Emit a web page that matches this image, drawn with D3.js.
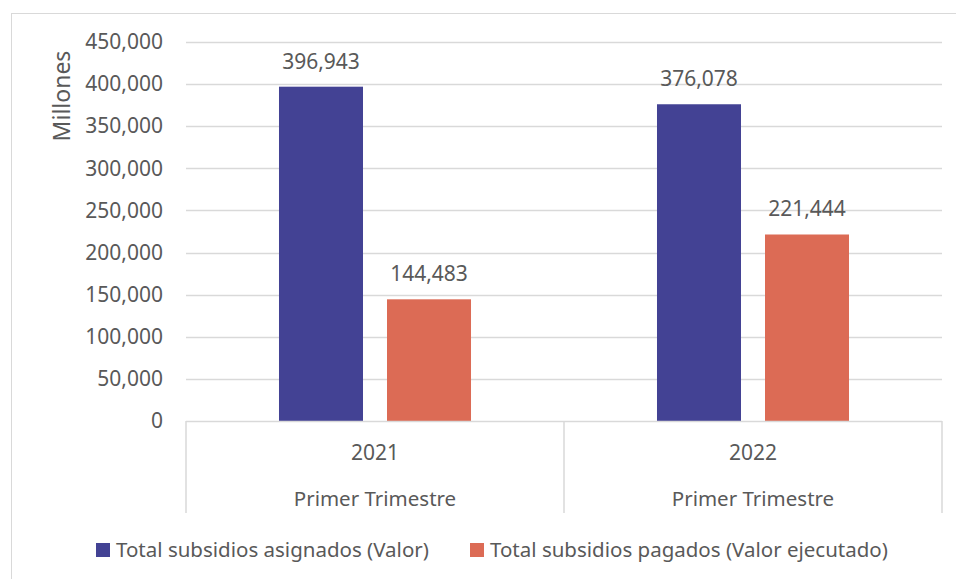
<!DOCTYPE html>
<html>
<head>
<meta charset="utf-8">
<script src="https://cdn.jsdelivr.net/npm/d3@7"></script>
<style>
  body { margin: 0; background: white; }
  text { font-family: "Noto Sans", "Open Sans", sans-serif; fill: #595959; }
</style>
</head>
<body>
<div id="chart"></div>
<script>
var years = ["2021", "2022"];
var periodLabel = "Primer Trimestre";
var seriesNames = ["Total subsidios asignados (Valor)", "Total subsidios pagados (Valor ejecutado)"];
var asignados = [396943, 376078];
var pagados = [144483, 221444];
var yTicks = [0, 50000, 100000, 150000, 200000, 250000, 300000, 350000, 400000, 450000];
var colors = ["#434294", "#dc6b55"];

var width = 956, height = 579;
var plotLeft = 186, plotRight = 942, plotTop = 42, plotBottom = 421;

var svg = d3.select("#chart").append("svg")
    .attr("width", width)
    .attr("height", height);

// outer chart border
svg.append("rect")
    .attr("x", 11.5).attr("y", 13.5)
    .attr("width", 980).attr("height", 600)
    .attr("fill", "none")
    .attr("stroke", "#d9d9d9");

var y = d3.scaleLinear().domain([0, 450000]).range([plotBottom, plotTop]);
var x0 = d3.scaleBand().domain(years).range([plotLeft, plotRight]).padding(0);
var x1 = d3.scaleBand().domain([0, 1]).range([0, x0.bandwidth()])
    .paddingInner(24 / 108).paddingOuter(0.861);

// gridlines
svg.append("g").selectAll("line")
    .data(yTicks.filter(function(d) { return d > 0; }))
    .enter().append("line")
    .attr("x1", plotLeft).attr("x2", plotRight)
    .attr("y1", function(d) { return Math.round(y(d)) + 0.5; })
    .attr("y2", function(d) { return Math.round(y(d)) + 0.5; })
    .attr("stroke", "#d9d9d9").attr("stroke-width", 1.5);

// y axis labels
var yAxis = d3.axisLeft(y).tickValues(yTicks).tickSize(0).tickPadding(0)
    .tickFormat(d3.format(","));
var gy = svg.append("g").attr("transform", "translate(163,0)").call(yAxis);
gy.select(".domain").remove();
gy.selectAll("text").attr("font-size", "21px").attr("fill", "#595959")
    .attr("font-family", "Noto Sans");

svg.append("text")
    .attr("text-anchor", "middle")
    .attr("transform", "translate(70,96)rotate(-90)")
    .attr("font-size", "23px")
    .text("Millones");

// bars
var data = years.map(function(yr, i) {
    return { year: yr, values: [asignados[i], pagados[i]] };
});

var groups = svg.selectAll(".grp").data(data).enter().append("g")
    .attr("class", "grp")
    .attr("transform", function(d) { return "translate(" + x0(d.year) + ",0)"; });

groups.selectAll("rect").data(function(d) { return d.values; })
    .enter().append("rect")
    .attr("x", function(d, i) { return x1(i); })
    .attr("width", x1.bandwidth())
    .attr("y", function(d) { return y(d); })
    .attr("height", function(d) { return plotBottom - y(d); })
    .attr("fill", function(d, i) { return colors[i]; });

groups.selectAll(".lbl").data(function(d) { return d.values; })
    .enter().append("text")
    .attr("class", "lbl")
    .attr("x", function(d, i) { return x1(i) + x1.bandwidth() / 2; })
    .attr("y", function(d) { return y(d) - 18; })
    .attr("text-anchor", "middle")
    .attr("font-size", "21px")
    .attr("fill", "#404040")
    .text(function(d) { return d3.format(",")(d); });

// baseline and category separators
svg.append("line")
    .attr("x1", plotLeft).attr("x2", plotRight)
    .attr("y1", plotBottom + 0.5).attr("y2", plotBottom + 0.5)
    .attr("stroke", "#d9d9d9").attr("stroke-width", 1.5);

var seps = [plotLeft, x0("2022"), plotRight];
svg.append("g").selectAll("line").data(seps).enter().append("line")
    .attr("x1", function(d) { return d; }).attr("x2", function(d) { return d; })
    .attr("y1", plotBottom).attr("y2", 513)
    .attr("stroke", "#d9d9d9").attr("stroke-width", 1.5);

svg.append("g").selectAll("text").data(years).enter().append("text")
    .attr("x", function(d) { return x0(d) + x0.bandwidth() / 2; })
    .attr("y", 460)
    .attr("text-anchor", "middle")
    .attr("font-size", "21px")
    .text(function(d) { return d; });

svg.append("g").selectAll("text").data(years).enter().append("text")
    .attr("x", function(d) { return x0(d) + x0.bandwidth() / 2; })
    .attr("y", 506)
    .attr("text-anchor", "middle")
    .attr("font-size", "20.5px")
    .text(periodLabel);

// legend
var legendX = [96, 470];
var lg = svg.selectAll(".leg").data(seriesNames).enter().append("g")
    .attr("class", "leg")
    .attr("transform", function(d, i) { return "translate(" + legendX[i] + ",543)"; });
lg.append("rect").attr("width", 14).attr("height", 14)
    .attr("fill", function(d, i) { return colors[i]; });
lg.append("text").attr("x", 20).attr("y", 14)
    .attr("font-size", "20.5px")
    .text(function(d) { return d; });
</script>
</body>
</html>
